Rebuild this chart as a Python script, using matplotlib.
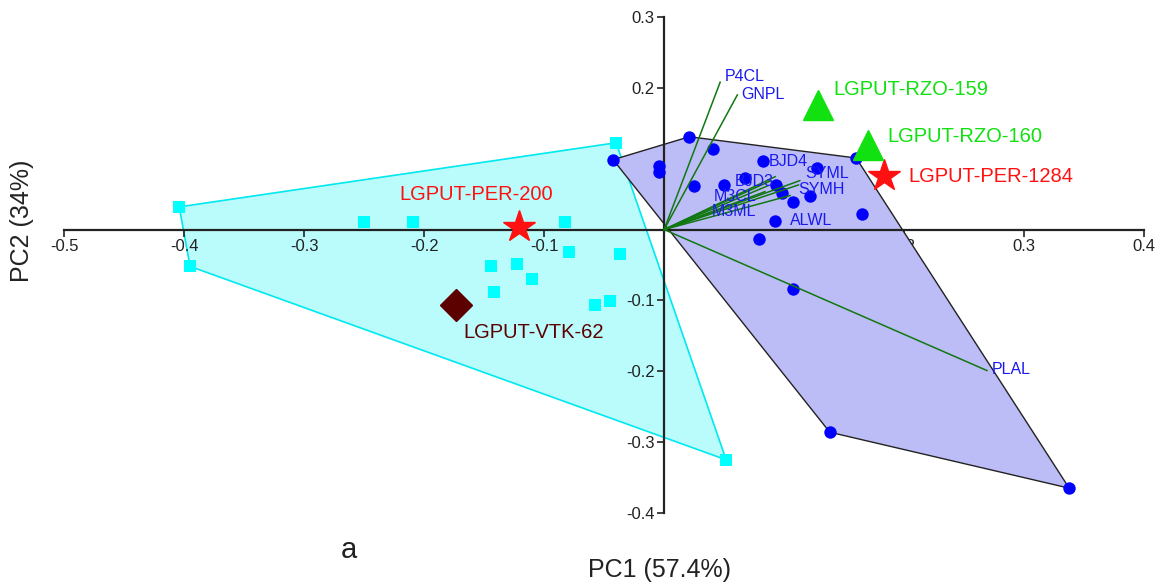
import matplotlib
matplotlib.use("Agg")
import matplotlib.pyplot as plt
from matplotlib.patches import Polygon

# group 1 (cyan squares)
sq_x = [-0.404, -0.395, -0.040, -0.250, -0.209, -0.0825, -0.079, -0.0367,
        -0.144, -0.1225, -0.110, -0.1417, -0.045, -0.058, 0.0517]
sq_y = [0.032, -0.052, 0.1225, 0.010, 0.011, 0.010, -0.031, -0.035,
        -0.052, -0.048, -0.070, -0.0887, -0.101, -0.107, -0.325]
sq_hull = [0, 2, 14, 1]

# group 2 (blue circles)
ci_x = [-0.0425, 0.021, 0.041, -0.004, -0.004, 0.025, 0.050, 0.067, 0.082,
        0.093, 0.098, 0.1075, 0.1217, 0.127, 0.160, 0.165, 0.0925, 0.079,
        0.107, 0.138, 0.3375]
ci_y = [0.0986, 0.131, 0.113, 0.090, 0.081, 0.061, 0.063, 0.073, 0.097,
        0.063, 0.051, 0.039, 0.048, 0.087, 0.101, 0.0225, 0.0127, -0.0127,
        -0.0845, -0.286, -0.365]
ci_hull = [0, 1, 14, 20, 19]

# variable loadings
var_names = ["P4CL", "GNPL", "BJD4", "BJD3", "M3CL", "M3ML", "SYML", "SYMH", "ALWL", "PLAL"]
var_x = [0.0467, 0.061, 0.0925, 0.089, 0.0867, 0.084, 0.113, 0.112, 0.105, 0.269]
var_y = [0.208, 0.190, 0.0746, 0.069, 0.062, 0.0535, 0.069, 0.063, 0.048, -0.199]
lab_x = [0.0508, 0.064, 0.0875, 0.059, 0.041, 0.040, 0.118, 0.112, 0.105, 0.273]
lab_y = [0.2155, 0.190, 0.0958, 0.0676, 0.0465, 0.025, 0.0785, 0.0565, 0.0127, -0.197]

# highlighted accessions
stars = {"LGPUT-PER-200": (-0.121, 0.004), "LGPUT-PER-1284": (0.183, 0.075)}
tris = {"LGPUT-RZO-159": (0.128, 0.176), "LGPUT-RZO-160": (0.170, 0.120)}
diam = {"LGPUT-VTK-62": (-0.173, -0.107)}

xticks = [-0.5, -0.4, -0.3, -0.2, -0.1, 0.1, 0.2, 0.3, 0.4]
yticks = [-0.4, -0.3, -0.2, -0.1, 0.1, 0.2, 0.3]

plt.rcParams['font.family'] = ['Liberation Sans', 'DejaVu Sans']
fig = plt.figure(figsize=(11.64, 5.88), dpi=100)
ax = fig.add_axes([0.055, 0.1276, 0.928, 0.8435])
ax.set_xlim(-0.5, 0.4)
ax.set_ylim(-0.4, 0.3)

ax.add_patch(Polygon([(sq_x[i], sq_y[i]) for i in sq_hull], closed=True,
                     facecolor="#bafcfc", edgecolor="#00e8f0", lw=1.2, zorder=1))
ax.add_patch(Polygon([(ci_x[i], ci_y[i]) for i in ci_hull], closed=True,
                     facecolor="#bcbcf7", edgecolor="#222222", lw=1.0, zorder=2))

ax.scatter(sq_x, sq_y, marker="s", s=70, color="#00ffff", zorder=3, linewidths=0)
ax.scatter(ci_x, ci_y, marker="o", s=80, color="#0000ff", zorder=4, linewidths=0)

for i, nm in enumerate(var_names):
    ax.plot([0, var_x[i]], [0, var_y[i]], color="#117711", lw=1.1, zorder=5)
    ax.text(lab_x[i], lab_y[i], nm, color="#1a1aee", fontsize=11.5, va="center", ha="left", zorder=6)

for nm, (x, y) in stars.items():
    ax.plot(x, y, marker="*", ms=24, color="#ff1111", mec="#ff1111", zorder=7)
for nm, (x, y) in tris.items():
    ax.plot(x, y, marker="^", ms=22, color="#11e011", mec="#11e011", zorder=7)
for nm, (x, y) in diam.items():
    ax.plot(x, y, marker="D", ms=16, color="#5c0000", mec="#5c0000", zorder=7)

ax.text(-0.157, 0.049, "LGPUT-PER-200", color="#ff1111", fontsize=14.5, ha="center", va="center")
ax.text(0.2033, 0.075, "LGPUT-PER-1284", color="#ff1111", fontsize=14.5, ha="left", va="center")
ax.text(0.1408, 0.197, "LGPUT-RZO-159", color="#11e011", fontsize=14.5, ha="left", va="center")
ax.text(0.186, 0.132, "LGPUT-RZO-160", color="#11e011", fontsize=14.5, ha="left", va="center")
ax.text(-0.167, -0.145, "LGPUT-VTK-62", color="#5c0000", fontsize=14.5, ha="left", va="center")

for s in ["top", "right"]:
    ax.spines[s].set_visible(False)
ax.spines["left"].set_position(("data", 0))
ax.spines["bottom"].set_position(("data", 0))
for s in ["left", "bottom"]:
    ax.spines[s].set_linewidth(1.6)
    ax.spines[s].set_color("#222222")
    ax.spines[s].set_zorder(2.5)
ax.set_xticks(xticks)
ax.set_yticks(yticks)
ax.set_xticklabels([f"{t:g}" for t in xticks])
ax.set_yticklabels([f"{t:g}" for t in yticks])
ax.tick_params(direction="out", length=5, width=1.2, labelsize=12, colors="#222222", pad=2)

fig.text(0.567, 0.03, "PC1 (57.4%)", fontsize=18, ha="center", va="center", color="#222222")
fig.text(0.019, 0.625, "PC2 (34%)", fontsize=18, rotation=90, ha="center", va="center", color="#222222")
fig.text(0.30, 0.065, "a", fontsize=21, ha="center", va="center", color="#222222")

fig.savefig("out.png", dpi=100)
